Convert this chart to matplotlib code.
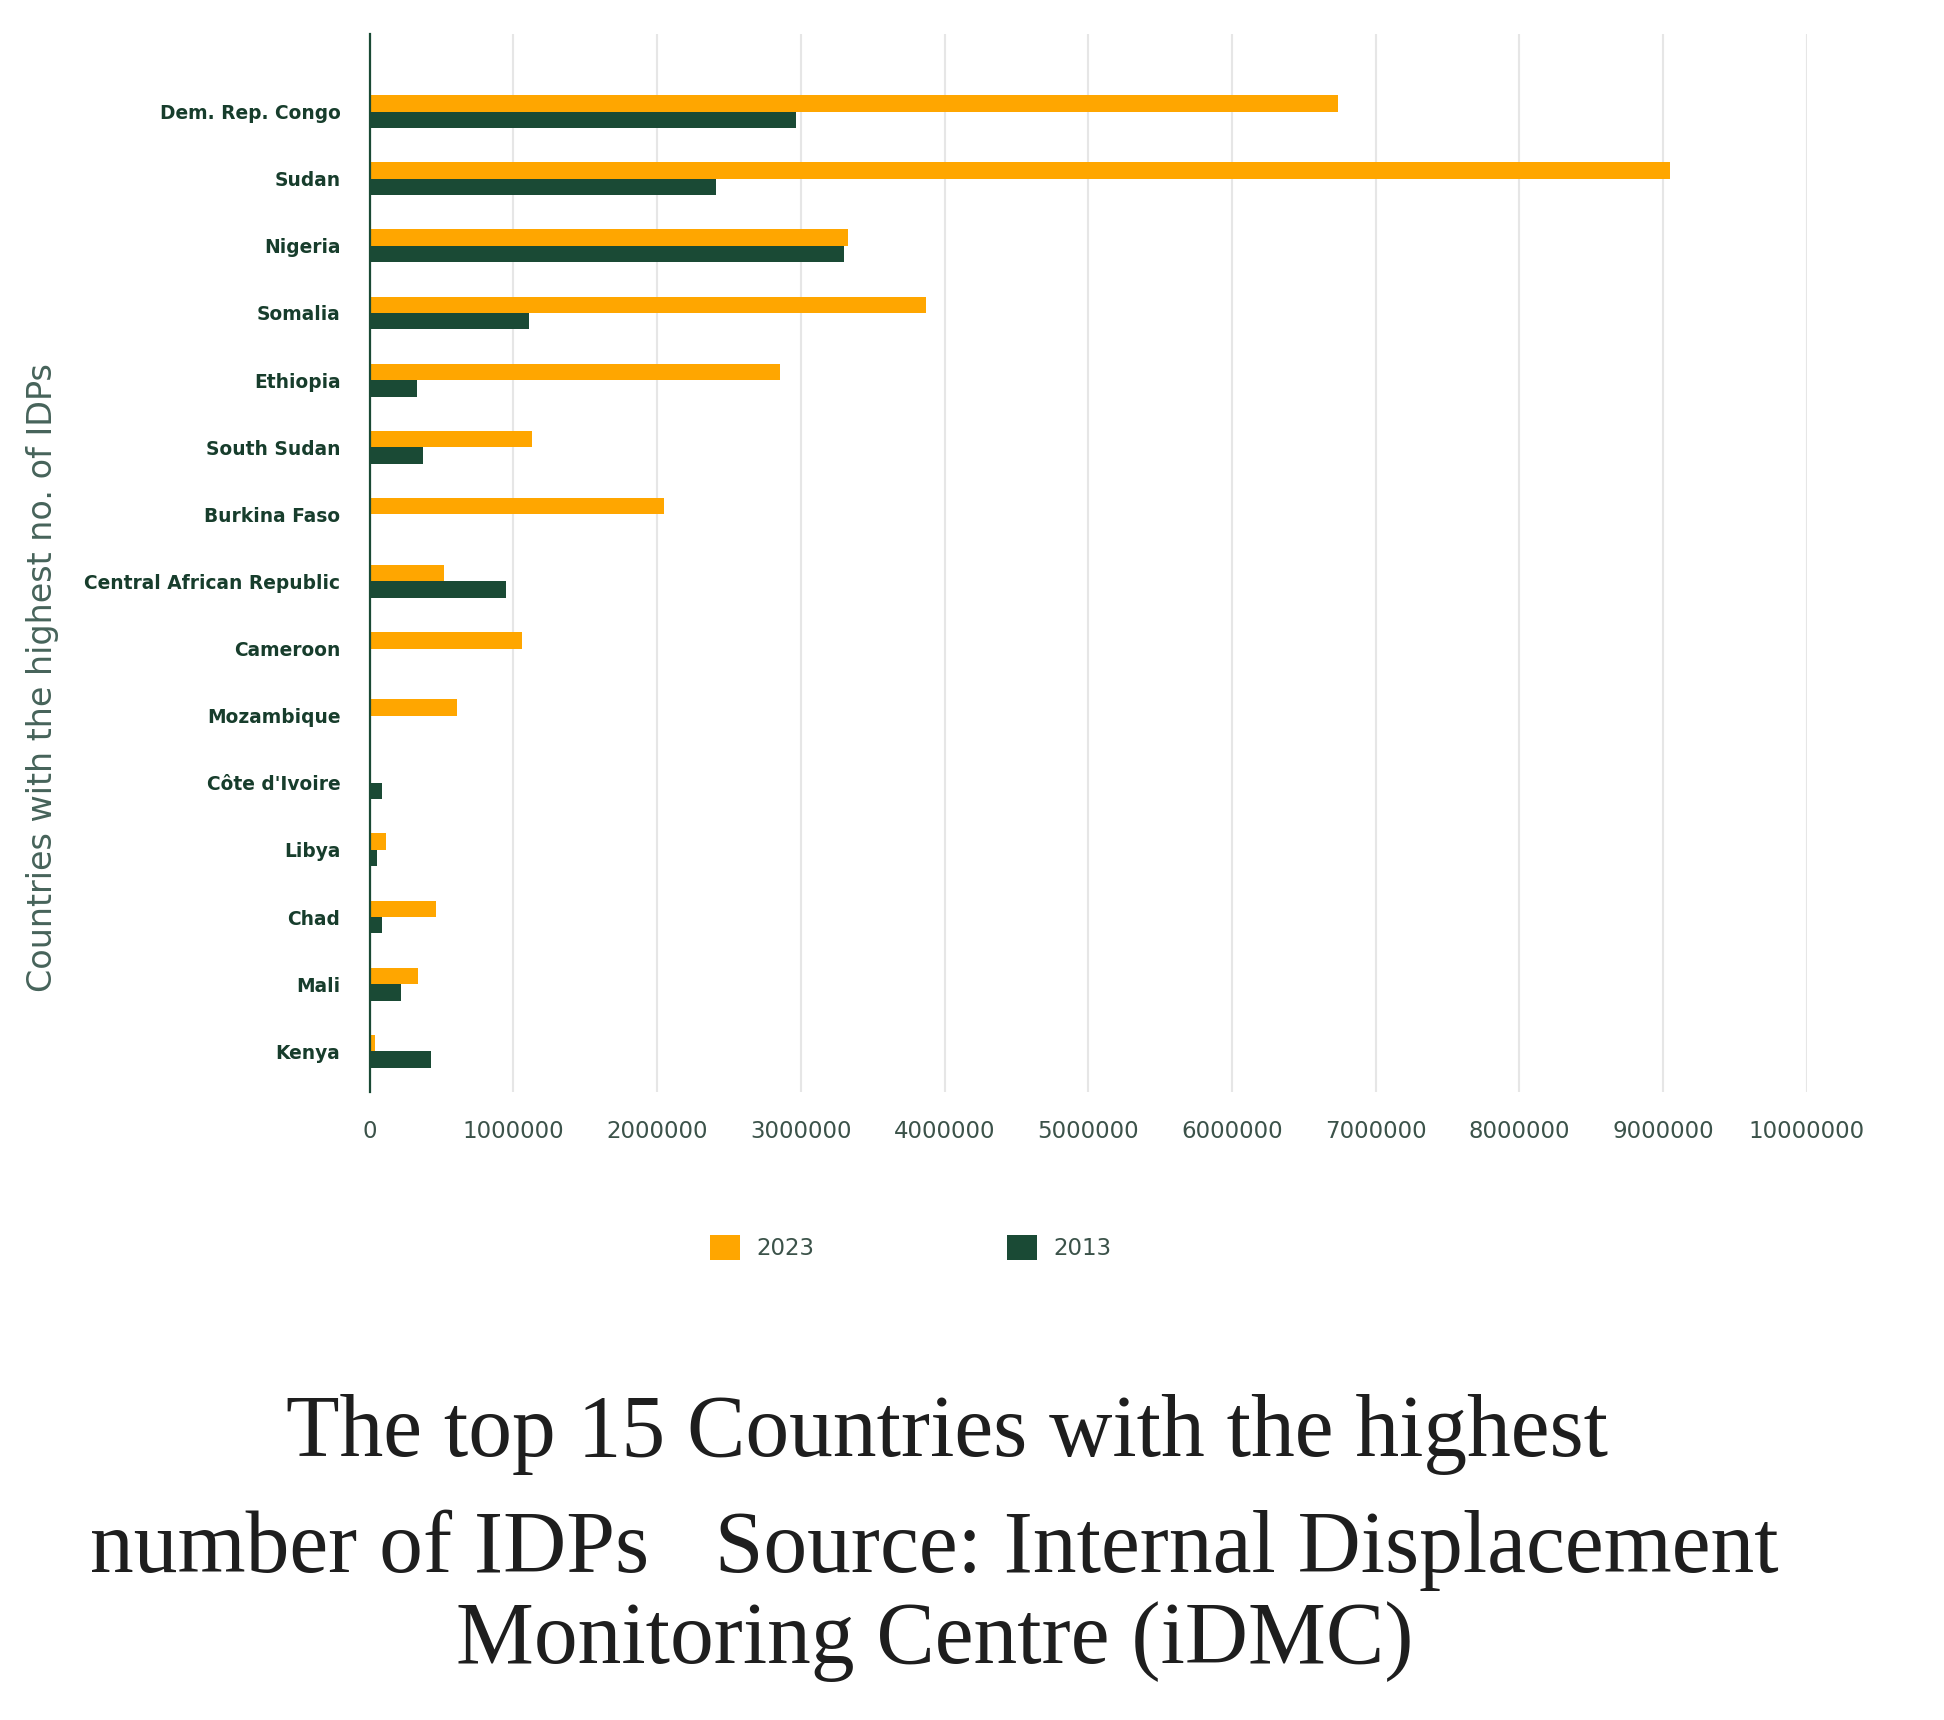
import matplotlib

matplotlib.use("Agg")

import matplotlib.pyplot as plt
import numpy as np

COUNTRIES = [
    "Dem. Rep. Congo", "Sudan", "Nigeria", "Somalia", "Ethiopia",
    "South Sudan", "Burkina Faso", "Central African Republic", "Cameroon",
    "Mozambique", "Côte d'Ivoire", "Libya", "Chad", "Mali", "Kenya",
]
IDPS_2023 = [
    6740000, 9050000, 3330000, 3870000, 2855000,
    1130000, 2050000, 520000, 1060000,
    610000, 0, 115000, 460000, 340000, 40000,
]
IDPS_2013 = [
    2970000, 2410000, 3300000, 1110000, 330000,
    370000, 0, 950000, 0,
    0, 90000, 50000, 90000, 220000, 430000,
]
X_TICKS = [0, 1000000, 2000000, 3000000, 4000000, 5000000,
           6000000, 7000000, 8000000, 9000000, 10000000]

ORANGE = "#FFA600"
GREEN = "#1A4A35"
LABEL_GREEN = "#173D2C"
TICK_GRAY = "#3B5249"
AXIS_TITLE = "#46635A"

fig = plt.figure(figsize=(19.44, 17.2), dpi=100)
ax = fig.add_axes([0.1901, 0.365, 0.7394, 0.615])

y = np.arange(len(COUNTRIES))
h = 0.245
ax.barh(y - h / 2, IDPS_2023, height=h, color=ORANGE, linewidth=0, label="2023")
ax.barh(y + h / 2, IDPS_2013, height=h, color=GREEN, linewidth=0, label="2013")

ax.set_xlim(0, 10000000)
ax.set_ylim(14.61, -1.15)

ax.set_xticks(X_TICKS, labels=[str(v) for v in X_TICKS])
ax.set_yticks(y, labels=COUNTRIES)
ax.tick_params(axis="x", length=0, pad=20, labelsize=16.5, labelcolor=TICK_GRAY)
ax.tick_params(axis="y", length=0, pad=21, labelsize=13.4, labelcolor=LABEL_GREEN)
for lab in ax.get_yticklabels():
    lab.set_fontweight("bold")

ax.grid(axis="x", color="#E6E6E6", linewidth=1.5)
ax.set_axisbelow(True)
for side in ("top", "right", "bottom"):
    ax.spines[side].set_visible(False)
ax.spines["left"].set_color(GREEN)
ax.spines["left"].set_linewidth(1.6)
ax.spines["left"].set_zorder(3)

fig.text(0.022, 0.606, "Countries with the highest no. of IDPs", rotation=90,
         ha="center", va="center", fontsize=24, color=AXIS_TITLE)

fs_leg = 16.5
fig.legend(loc="center left", bbox_to_anchor=(710 / 1944, 0.2747), ncol=2,
           frameon=False, fontsize=fs_leg, handlelength=1.31, handleheight=1.31,
           handletextpad=0.70, columnspacing=8.43, borderpad=0, borderaxespad=0,
           labelcolor=TICK_GRAY)

# caption below the chart, three lines as in the source
title_kw = dict(ha="center", va="baseline", fontsize=63, color="#1E1E1E",
                family="Liberation Serif")
fig.text(0.487, 0.1535, "The top 15 Countries with the highest", **title_kw)
fig.text(0.4807, 0.0860, "number of IDPs   Source: Internal Displacement", **title_kw)
fig.text(0.481, 0.0331, "Monitoring Centre (iDMC)", **title_kw)

fig.savefig("out.png", dpi=100)
plt.close(fig)
